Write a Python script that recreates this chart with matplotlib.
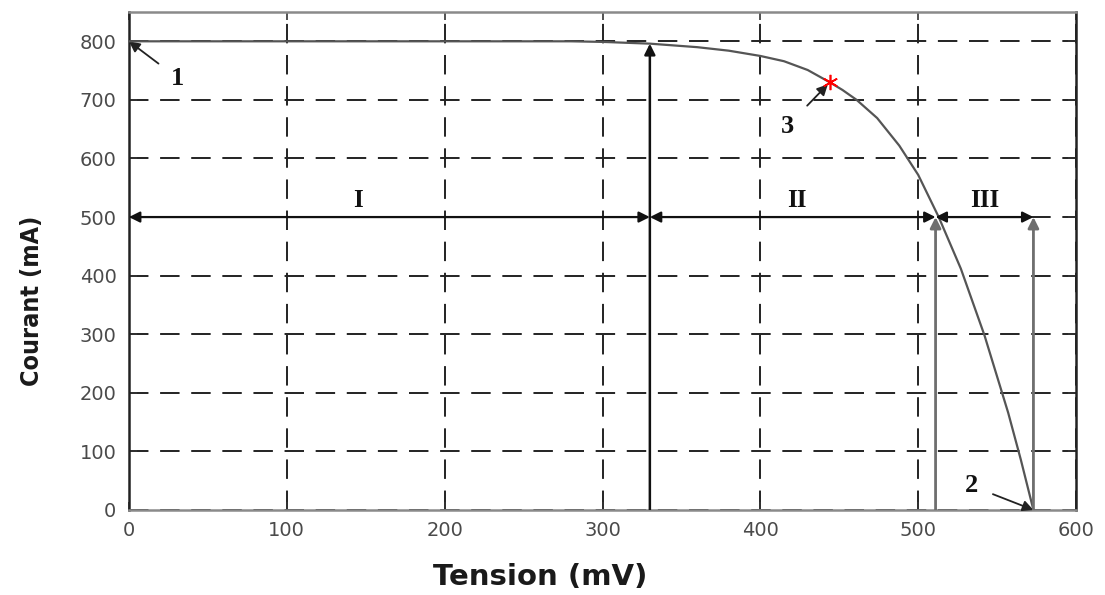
import matplotlib
matplotlib.use('Agg')
import matplotlib.pyplot as plt
from matplotlib.patches import FancyArrowPatch

# I-V curve of the cell, read point by point
tension = [0, 100, 200, 250, 280, 300, 330, 360, 380, 400, 415, 430, 444,
           452, 461, 474, 488, 500, 513, 527, 542, 557, 565, 573]
courant = [800, 800, 800, 800, 800, 799, 796, 790, 784, 775, 766, 751, 730,
           717, 700, 669, 622, 572, 500, 412, 298, 166, 86, 0]

# remarkable points: 1 = Isc, 2 = Voc, 3 = MPP
pt_isc = (0, 800)
pt_voc = (573, 0)
pt_mpp = (444, 730)

# zone boundaries (mV) and the current level of the zone arrows
zone_bounds = [0, 330, 511, 573]
zone_names = ['I', 'II', 'III']
zone_label_x = [145, 423, 542]
zone_level = 500

xticks = [0, 100, 200, 300, 400, 500, 600]
yticks = [0, 100, 200, 300, 400, 500, 600, 700, 800]

fig = plt.figure(figsize=(11.05, 5.95), dpi=100)
ax = fig.add_axes([0.1167, 0.1429, 0.8571, 0.8369])

ax.set_xlim(0, 600)
ax.set_ylim(0, 850)
ax.set_xticks(xticks)
ax.set_yticks(yticks)

ax.grid(True, color='#222222', linestyle=(0, (10, 6)), linewidth=1.4)
ax.set_axisbelow(True)

ax.tick_params(direction='in', length=6, width=1.2, top=True, right=True,
               labelsize=14, labelcolor='#4a4a4a', colors='#333333')
ax.tick_params(axis='y', pad=9)
ax.tick_params(axis='x', pad=8)
for lab in ax.get_xticklabels() + ax.get_yticklabels():
    lab.set_family('DejaVu Sans')

for side in ['left', 'right']:
    ax.spines[side].set_color('#222222')
    ax.spines[side].set_linewidth(1.8)
for side in ['top', 'bottom']:
    ax.spines[side].set_color('#8a8a8a')
    ax.spines[side].set_linewidth(1.8)

# the characteristic
ax.plot(tension, courant, color='#555555', lw=1.6, zorder=4)
ax.plot(*pt_mpp, marker=(6, 2, 0), color='red', markersize=11,
        markeredgewidth=1.2, zorder=6)


def arrow(p0, p1, style='-|>', color='#111111', lw=1.8):
    a = FancyArrowPatch(p0, p1, arrowstyle=style, mutation_scale=16,
                        color=color, lw=lw, shrinkA=0, shrinkB=0, zorder=5)
    ax.add_patch(a)


# vertical markers of the zones
arrow((zone_bounds[1], 0), (zone_bounds[1], 796))
arrow((zone_bounds[2], 0), (zone_bounds[2], zone_level), color='#6e6e6e', lw=2.0)
arrow((zone_bounds[3], 0), (zone_bounds[3], zone_level), color='#6e6e6e', lw=2.0)

# horizontal double arrows for the three zones
for i in range(3):
    x0 = zone_bounds[i]
    x1 = zone_bounds[i + 1]
    arrow((x0, zone_level), (x1, zone_level), style='<|-|>', lw=1.6)
    ax.text(zone_label_x[i], zone_level + 29, zone_names[i], ha='center',
            va='center', fontsize=18, fontweight='bold',
            family='Liberation Serif', color='#111111')

# numbered annotations
serif = dict(fontsize=19, fontweight='bold', family='Liberation Serif',
             color='#111111', ha='center', va='center')
ax.annotate('1', xy=pt_isc, xytext=(31, 737), **serif,
            arrowprops=dict(arrowstyle='-|>', color='#222222', lw=1.3,
                            mutation_scale=16, shrinkA=9, shrinkB=0))
ax.annotate('3', xy=pt_mpp, xytext=(417, 655), **serif,
            arrowprops=dict(arrowstyle='-|>', color='#222222', lw=1.3,
                            mutation_scale=16, shrinkA=11, shrinkB=2))
ax.annotate('2', xy=pt_voc, xytext=(534, 41), **serif,
            arrowprops=dict(arrowstyle='-|>', color='#222222', lw=1.3,
                            mutation_scale=16, shrinkA=9, shrinkB=0))

fig.text(0.489, 0.030, 'Tension (mV)', ha='center', va='center',
         fontsize=21, fontweight='bold', color='#1a1a1a', family='DejaVu Sans')
fig.text(0.029, 0.495, 'Courant (mA)', ha='center', va='center', rotation=90,
         fontsize=18, fontweight='bold', fontstretch='condensed',
         color='#1a1a1a',
         family=['DejaVu Sans Condensed', 'Liberation Sans Narrow', 'DejaVu Sans'])

fig.savefig('out.png', dpi=100, facecolor='white')
